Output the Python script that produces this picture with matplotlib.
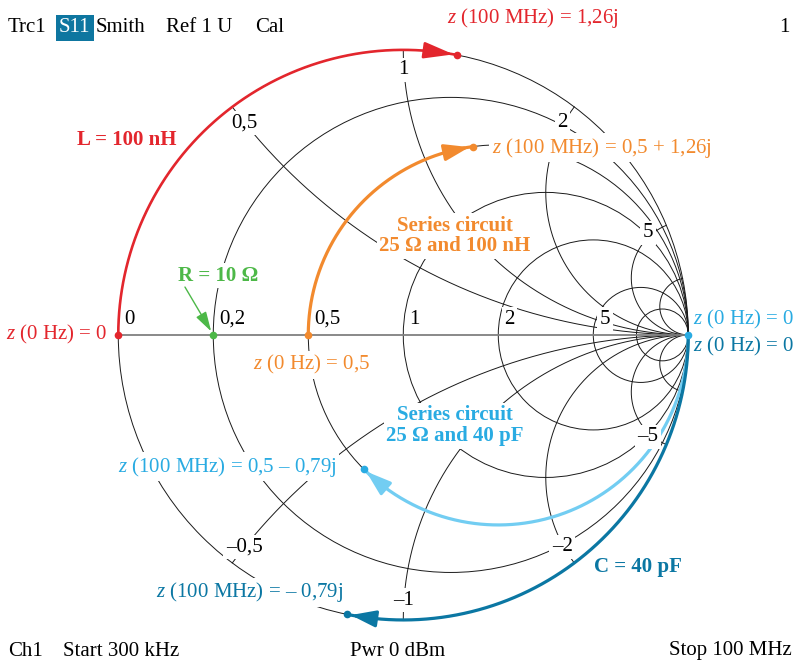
import numpy as np
import matplotlib.pyplot as plt
from matplotlib.patches import Circle, FancyArrowPatch

plt.rcParams['font.family'] = ['Liberation Serif', 'DejaVu Serif']
plt.rcParams['mathtext.fontset'] = 'custom'
plt.rcParams['mathtext.it'] = 'Liberation Serif:italic'
plt.rcParams['mathtext.rm'] = 'Liberation Serif'

# Smith chart grid
r_circles = [0.2, 0.5, 1, 2, 5, 10]
x_arcs = [0.5, 1, 2, 5, 10, -0.5, -1, -2, -5, -10]
r_label_vals = [0, 0.2, 0.5, 1, 2, 5]
r_labels = ['0', '0,2', '0,5', '1', '2', '5']
x_label_vals = [0.5, 1, 2, 5, -0.5, -1, -2, -5]
x_labels = ['0,5', '1', '2', '5', '\u20130,5', '\u20131', '\u20132', '\u20135']

# traces: normalized r and the reactance at 0 Hz and at 100 MHz
L_r, L_x = 0.0, [0.0, 1.21]
RL_r, RL_x = 0.5, [0.0, 1.31]
RC_r, RC_x = 0.5, [-np.inf, -0.62]
C_r, C_x = 0.0, [-np.inf, -0.82]
R10 = 0.2   # 10 ohm / 50 ohm

RED = '#e3262d'
ORANGE = '#f28a2e'
GREEN = '#4db848'
CYAN = '#29abe2'
CYAN_TR = '#72cdf2'
DBLUE = '#0b77a3'
FS = 15


def gamma(z):
    return (z - 1) / (z + 1)


def trace(r, x0, x1, n=400):
    phi = np.linspace(np.arctan(x0), np.arctan(x1), n)
    g = gamma(r + 1j * np.tan(phi))
    return g.real, g.imag


def point_back(gx, gy, d):
    # point at arc length d before the end of the trace
    s = np.concatenate([[0], np.cumsum(np.hypot(np.diff(gx), np.diff(gy)))])
    s = s[-1] - s
    return np.interp(d, s[::-1], gx[::-1]), np.interp(d, s[::-1], gy[::-1])


fig = plt.figure(figsize=(7.98, 6.63), dpi=100)
ax = fig.add_axes([0, 0, 1, 1])
ax.set_xlim(-1.415, 1.385)
ax.set_ylim(-1.151, 1.175)
ax.axis('off')

grid_kw = dict(color='#1a1a1a', lw=0.7, zorder=1)
ax.add_patch(Circle((0, 0), 1, fill=False, **grid_kw))
for r in r_circles:
    ax.add_patch(Circle((r / (1 + r), 0), 1 / (1 + r), fill=False, **grid_kw))
psi = np.linspace(0, np.pi / 2, 600)
for x in x_arcs:
    g = gamma(np.tan(psi) + 1j * x)
    ax.plot(g.real, g.imag, **grid_kw)
ax.plot([-1, 1], [0, 0], color='#808080', lw=1.3, zorder=1.5)

lab_box = dict(boxstyle='square,pad=0.12', fc='white', ec='none')
for v, t in zip(r_label_vals, r_labels):
    ax.text(gamma(v) + 0.022, 0.055, t, fontsize=FS, ha='left', va='center',
            bbox=lab_box, zorder=3)
for v, t in zip(x_label_vals, x_labels):
    a = np.angle(gamma(1j * v))
    ax.text(0.93 * np.cos(a), 0.93 * np.sin(a), t, fontsize=FS, ha='center',
            va='center', bbox=lab_box, zorder=3)

# traces with arrow heads and end points
traces = [
    (L_r, L_x, RED, RED, 1.9, 18),
    (RL_r, RL_x, ORANGE, ORANGE, 2.3, 15),
    (RC_r, RC_x, CYAN_TR, CYAN, 2.3, 15),
    (C_r, C_x, DBLUE, DBLUE, 2.3, 15),
]
for r, xs, col, dot_col, lw, hl in traces:
    gx, gy = trace(r, xs[0], xs[1])
    ax.plot(gx, gy, color=col, lw=lw, zorder=2, solid_capstyle='butt')
    tip = point_back(gx, gy, 0.012)
    tail = point_back(gx, gy, 0.09)
    ax.add_patch(FancyArrowPatch(tail, tip, arrowstyle='-|>,head_length=%d,head_width=5' % hl,
                                 mutation_scale=1, color=col, lw=lw, shrinkA=0, shrinkB=0,
                                 zorder=2.5))
    ax.plot(gx[-1], gy[-1], 'o', ms=5.5, color=dot_col, mec='none', zorder=5)

# start points
ax.plot(-1, 0, 'o', ms=5.5, color=RED, mec='none', zorder=5)
ax.plot(gamma(RL_r), 0, 'o', ms=5.5, color=ORANGE, mec='none', zorder=5)
ax.plot(gamma(R10), 0, 'o', ms=5.5, color=GREEN, mec='none', zorder=5)
ax.plot(1, 0, 'o', ms=5.5, color=CYAN, mec='none', zorder=5)

# annotations
ax.text(0.453, 1.112, '$z$ (100 MHz) = 1,26j', color=RED, fontsize=FS, ha='center', va='center')
ax.text(-0.969, 0.684, 'L = 100 nH', color=RED, fontsize=FS, fontweight='bold',
        ha='center', va='center', zorder=4)
ax.text(-1.04, 0.0, '$z$ (0 Hz) = 0', color=RED, fontsize=FS, ha='right', va='center')

ax.text(-0.648, 0.207, 'R = 10 \u03a9', color=GREEN, fontsize=FS, fontweight='bold',
        ha='center', va='center', bbox=lab_box, zorder=4)
ax.add_patch(FancyArrowPatch((-0.766, 0.168), (gamma(R10), 0), arrowstyle='-|>,head_length=12,head_width=3.5',
                             mutation_scale=1, color=GREEN, lw=1.0, shrinkA=0, shrinkB=3, zorder=4))

ax.text(0.181, 0.347, 'Series circuit\n25 \u03a9 and 100 nH', color=ORANGE, fontsize=FS,
        fontweight='bold', ha='center', va='center', linespacing=1.05, bbox=lab_box, zorder=4)
ax.text(0.311, 0.656, '$z$ (100 MHz) = 0,5 + 1,26j', color=ORANGE, fontsize=FS,
        ha='left', va='center', bbox=lab_box, zorder=4)
ax.text(-0.322, -0.105, '$z$ (0 Hz) = 0,5', color=ORANGE, fontsize=FS,
        ha='center', va='center', bbox=lab_box, zorder=4)

ax.text(1.017, 0.053, '$z$ (0 Hz) = 0', color=CYAN, fontsize=FS, ha='left', va='center')
ax.text(1.017, -0.041, '$z$ (0 Hz) = 0', color=DBLUE, fontsize=FS, ha='left', va='center')
ax.text(0.181, -0.319, 'Series circuit\n25 \u03a9 and 40 pF', color=CYAN, fontsize=FS,
        fontweight='bold', ha='center', va='center', linespacing=1.05, bbox=lab_box, zorder=4)
ax.text(-0.617, -0.463, '$z$ (100 MHz) = 0,5 \u2013 0,79j', color=CYAN, fontsize=FS,
        ha='center', va='center', bbox=lab_box, zorder=4)
ax.text(-0.538, -0.902, '$z$ (100 MHz) = \u2013 0,79j', color=DBLUE, fontsize=FS,
        ha='center', va='center', bbox=lab_box, zorder=4)
ax.text(0.825, -0.813, 'C = 40 pF', color=DBLUE, fontsize=FS, fontweight='bold',
        ha='center', va='center', zorder=4)

# header and footer
ytop = 1 - 28 / 663
fig.text(8 / 798, ytop, 'Trc1', fontsize=FS, va='center')
fig.text(59 / 798, ytop, 'S11', fontsize=FS, va='center', color='white',
         bbox=dict(boxstyle='square,pad=0.15', fc='#0e76a0', ec='none'))
fig.text(96 / 798, ytop, 'Smith', fontsize=FS, va='center')
fig.text(166 / 798, ytop, 'Ref 1 U', fontsize=FS, va='center')
fig.text(255 / 798, ytop, 'Cal', fontsize=FS, va='center')
fig.text(790 / 798, ytop, '1', fontsize=FS, va='center', ha='right')
ybot = 1 - 651 / 663
fig.text(8 / 798, ybot, 'Ch1', fontsize=FS, va='center')
fig.text(63 / 798, ybot, 'Start 300 kHz', fontsize=FS, va='center')
fig.text(350 / 798, ybot, 'Pwr 0 dBm', fontsize=FS, va='center')
fig.text(792 / 798, ybot, 'Stop 100 MHz', fontsize=FS, va='center', ha='right')

fig.savefig('out.png', dpi=100)
